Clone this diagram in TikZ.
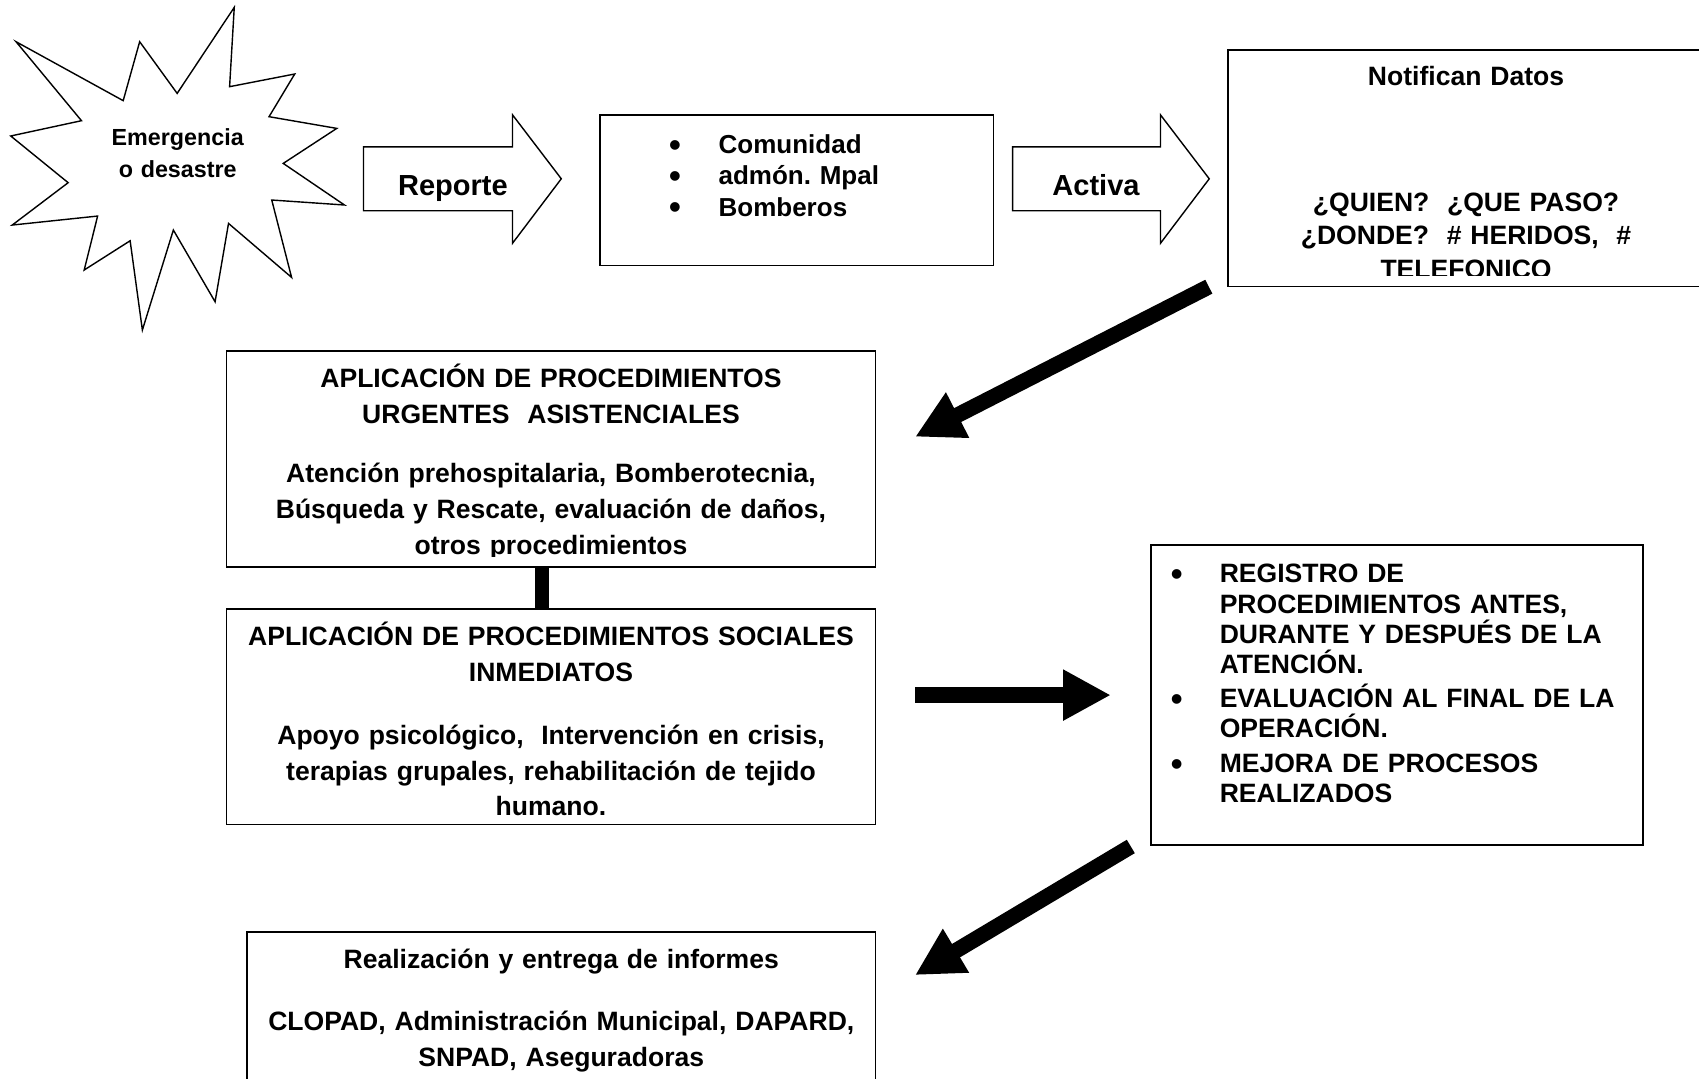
\documentclass[tikz,border=0pt]{standalone}
\usepackage{fontspec}
\setmainfont{Liberation Sans}
\usetikzlibrary{arrows.meta}
\lineskiplimit=-100pt
\frenchspacing
\begin{document}
\begin{tikzpicture}[x=1pt,y=-1pt,
  box/.style={draw, line width=1.6pt, inner sep=0pt},
  shapeline/.style={draw, line width=1.3pt, line join=miter},
  bigarrow/.style={line width=14.4pt, -{Triangle[length=44pt,width=44pt]}},
  ctext/.style={anchor=base, text width=#1, align=center, inner sep=0pt,
    font=\fontsize{24.5pt}{33pt}\selectfont\bfseries},
  ltext/.style={anchor=base west, text width=#1, align=left, inner sep=0pt,
    font=\fontsize{24.5pt}{28pt}\selectfont\bfseries},
  bul/.style={anchor=base, inner sep=0pt, yshift=-2.5pt, font=\fontsize{31pt}{31pt}\selectfont\bfseries},
  lbl/.style={anchor=base, inner sep=0pt, font=\fontsize{26.8pt}{30pt}\selectfont\bfseries}
]
\useasboundingbox (0,0) rectangle (1568,995);
\clip (0,0) rectangle (1568,995);
\fill[white] (0,0) rectangle (1568,995);

% star
\draw[shapeline] (14.8,38.5) -- (113.7,92.9) -- (128.9,38.5) -- (163.5,86.2) -- (216.2,6.8)
  -- (211.9,80.0) -- (272.0,68.3) -- (248.3,107.7) -- (310.8,118.5) -- (261.4,150.8)
  -- (317.9,189.2) -- (250.8,184.6) -- (269.1,256.0) -- (210.9,206.2) -- (198.5,278.5)
  -- (160.0,212.3) -- (131.4,304.6) -- (120.1,222.2) -- (77.7,249.2) -- (90.1,199.4)
  -- (11.3,207.7) -- (62.9,168.6) -- (9.9,125.5) -- (75.2,111.4) -- cycle;
\node[anchor=base, text width=160pt, align=center, inner sep=0pt,
  font=\fontsize{21.5pt}{29.5pt}\selectfont\bfseries] (emer) at (164,134.5) {Emergencia\\o desastre};

% block arrows
\draw[shapeline] (335.5,135.5) -- (473,135.5) -- (473,106) -- (518,165) -- (473,224.5)
  -- (473,194.5) -- (335.5,194.5) -- cycle;
\node[lbl] (rep) at (418,180) {Reporte};
\draw[shapeline] (934.5,135.5) -- (1071,135.5) -- (1071,106) -- (1116,165) -- (1071,224.5)
  -- (1071,194.5) -- (934.5,194.5) -- cycle;
\node[lbl] (act) at (1011.5,180) {Activa};

% Comunidad box
\node[box, minimum width=363pt, minimum height=139pt] (com) at (735.5,175.5) {};
\foreach \yy [count=\i] in {141.5,170.5,199.5}
  \node[bul] (cb\i) at (623,\yy) {•};
\node[ltext=240pt, font=\fontsize{24pt}{29pt}\selectfont\bfseries] (comtxt) at (663,141.5)
  {Comunidad\\admón. Mpal\\Bomberos};

% Notifican box
\node[box, minimum width=439.5pt, minimum height=218.5pt] (notif) at (1353.25,155.25) {};
\node[ctext=420pt] (notiftit) at (1353,79) {Notifican Datos};
\begin{scope}
  \clip (1134,47) rectangle (1568,254.5);
  \node[ctext=420pt, font=\fontsize{24.5pt}{31pt}\selectfont\bfseries] (notifbody) at (1353,195)
    {¿QUIEN?~ ¿QUE PASO?\\¿DONDE?~ \# HERIDOS,~ \#\\TELEFONICO};
\end{scope}

% arrow 1
\coordinate (a1s) at (1115.6,264.6);
\coordinate (a1e) at (844.6,403.1);
\draw[bigarrow] (a1s) -- (a1e);

% box 1
\node[box, minimum width=599pt, minimum height=199pt] (urg) at (508.5,423.5) {};
\begin{scope}
  \clip (210,325) rectangle (807,513.8);
  \node[ctext=590pt] (urgtxt) at (508.5,357.5)
    {APLICACIÓN DE PROCEDIMIENTOS\\URGENTES~ ASISTENCIALES\\[22pt]Atención prehospitalaria, Bomberotecnia,\\Búsqueda y Rescate, evaluación de daños,\\otros procedimientos};
\end{scope}

% box 2
\node[box, minimum width=599pt, minimum height=199pt] (soc) at (508.5,661.5) {};
\node[ctext=590pt] (soctxt) at (508.5,596)
  {APLICACIÓN DE PROCEDIMIENTOS SOCIALES\\INMEDIATOS\\[25pt]Apoyo psicológico,~ Intervención en crisis,\\terapias grupales, rehabilitación de tejido\\humano.};

% connector bar
\draw[line width=13pt] ([xshift=-8pt]urg.south) -- ([xshift=-8pt]soc.north);

% arrow 3
\coordinate (a3s) at (844.6,641.5);
\coordinate (a3e) at (1025.2,641.5);
\draw[bigarrow] (a3s) -- (a3e);

% box 3
\node[box, minimum width=454pt, minimum height=277pt] (reg) at (1289,641.5) {};
\node[bul] (rb1) at (1086,538) {•};
\node[bul] (rb2) at (1086,653) {•};
\node[bul] (rb3) at (1086,713) {•};
\node[ltext=385pt] (r1) at (1125.5,538) {REGISTRO DE\\PROCEDIMIENTOS ANTES,\\DURANTE Y DESPUÉS DE LA\\ATENCIÓN.};
\node[ltext=385pt] (r2) at (1125.5,653) {EVALUACIÓN AL FINAL DE LA\\OPERACIÓN.};
\node[ltext=385pt] (r3) at (1125.5,713) {MEJORA DE PROCESOS\\REALIZADOS};

% arrow 2
\coordinate (a2s) at (1043.6,781.2);
\coordinate (a2e) at (844.5,899.9);
\draw[bigarrow] (a2s) -- (a2e);

% box 4
\node[box, minimum width=580pt, minimum height=150pt] (inf) at (518,935) {};
\node[ctext=570pt] (inftxt) at (518,894)
  {Realización y entrega de informes\\[24pt]CLOPAD, Administración Municipal, DAPARD,\\SNPAD, Aseguradoras};
\end{tikzpicture}
\end{document}
